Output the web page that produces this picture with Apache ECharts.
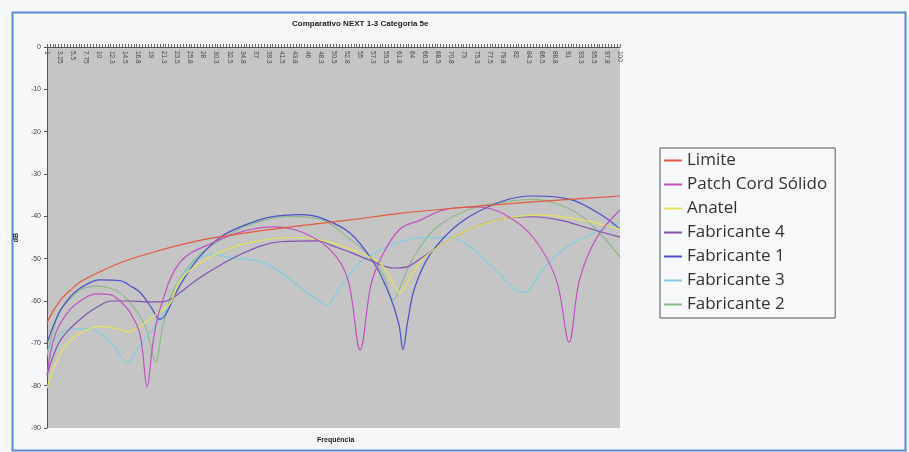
<!DOCTYPE html>
<html>
<head>
<meta charset="utf-8">
<script src="https://cdn.jsdelivr.net/npm/echarts@6/dist/echarts.min.js"></script>
<style>
  html, body { margin: 0; padding: 0; background: #f6f7f9; }
  #chart { width: 909px; height: 452px; }
</style>
</head>
<body>
<div id="chart"></div>
<script>
// rótulos do eixo de frequência (MHz)
var freqLabels = ['1', '3.25', '5.5', '7.75', '10', '12.3', '14.5', '16.8', '19', '21.3', '23.5', '25.8',
  '28', '30.3', '32.5', '34.8', '37', '39.3', '41.5', '43.8', '46', '48.3', '50.5', '52.8', '55', '57.3',
  '59.5', '61.8', '64', '66.3', '68.5', '70.8', '73', '75.3', '77.5', '79.8', '82', '84.3', '86.5', '88.8',
  '91', '93.3', '95.5', '97.8', '100'];

var seriesNames = ['Limite', 'Patch Cord Sólido', 'Anatel', 'Fabricante 4', 'Fabricante 1', 'Fabricante 3', 'Fabricante 2'];

// [frequência, dB]
var limite = [[1, -65.2], [2, -62.5], [3.5, -59.5], [5, -57.5], [7, -55.3], [10, -53.2], [14, -50.8], [19, -48.6],
  [27, -45.8], [36, -43.8], [45, -42.2], [53, -40.9], [62, -39.3], [71, -38.1], [80, -37.1], [90, -36.1], [100, -35.2]];

var patchCord = [[1, -77.5], [2.4, -68], [5, -62], [7.9, -59], [9.6, -58.3], [11.9, -58.5], [13.6, -60], [15.5, -63],
  [17.1, -68], [18.3, -80.3], [19.3, -70], [20.5, -62], [24, -50.8], [30, -46], [35, -43.5], [40, -42.5], [45, -43.7],
  [50, -48], [53, -55], [55.1, -71.6], [57, -56], [59, -49], [62, -43], [65.5, -40.9], [70, -38.3], [75.3, -37.8],
  [80, -39.5], [85, -45], [89, -55], [91.2, -69.7], [93, -55], [96, -45], [100, -38.5]];

var anatel = [[1, -80.6], [2.4, -75], [4.5, -70], [6.7, -67.6], [10.2, -66], [13, -66.5], [14.8, -67.3], [17.6, -65.5],
  [20, -63], [22.3, -60.5], [24, -55], [27.4, -51], [30, -49], [35, -46.5], [43, -45], [48, -45.5], [53, -47.5],
  [58.5, -51], [60.5, -55], [62, -58], [63.5, -55], [66, -50], [70, -46], [75, -42.5], [80, -40.5], [86.2, -39.7],
  [92, -40.5], [100, -43]];

var fab4 = [[1, -77.5], [3, -70], [5, -66.5], [7.9, -63], [10.2, -61], [12, -60], [15, -60], [18, -60.2], [21, -60.2],
  [23, -59], [24, -58], [27.4, -54.5], [34.4, -49], [41.3, -46], [48, -45.8], [50, -46.8], [53.4, -48.5], [57, -50.5],
  [60.8, -52.2], [63, -52], [65.5, -50], [70, -46], [75, -42.5], [80, -40.5], [85, -40.1], [90, -41], [95, -43], [100, -44.9]];

var fab1 = [[1, -70], [3, -63], [5, -59], [6.7, -57], [9, -55.3], [10.2, -55], [13.6, -55.2], [15.5, -56.5], [17.1, -58],
  [19, -61.5], [20.5, -64.3], [21.6, -63], [23.1, -58.5], [25, -54], [27.4, -49.5], [30.9, -45], [34.4, -42.5],
  [39.5, -40.2], [44.7, -39.6], [48.2, -40.3], [53.4, -44], [57.7, -51.5], [60.3, -59], [61.8, -65.5], [62.5, -71.5],
  [63.3, -65], [64.5, -57], [67.2, -49], [72.4, -41.5], [79.3, -36.6], [85, -35.2], [91.4, -36], [96.6, -39.5], [100, -43]];

var fab3 = [[1, -72], [2.4, -69], [4.5, -66.8], [7.9, -66.5], [10.2, -67.5], [12.5, -70.5], [15, -74.7], [16.5, -71.5],
  [18.8, -67.6], [22.3, -60.5], [24, -55], [26.9, -50.3], [30, -49], [32.6, -49.8], [36.6, -50.3], [40, -52], [44, -56],
  [47, -59], [49.4, -61], [51.5, -57], [55, -51], [58.5, -48], [62, -46], [65.5, -45], [70.6, -45], [74, -47], [78, -52],
  [83.3, -58], [87, -52], [91, -47], [96.6, -43.2], [100, -41.6]];

var fab2 = [[1, -73], [3, -63], [5, -59.5], [7, -57.2], [9.6, -56.5], [12, -57], [14, -58.5], [16, -61.5], [18, -66],
  [19.8, -74.4], [21, -66], [23, -57], [27, -49.5], [30.9, -45.6], [36, -42], [43, -40], [48.7, -40.9], [53, -45],
  [56.3, -48.7], [59, -53.5], [60.8, -59.8], [62.5, -55], [64.2, -50], [68, -43], [73.6, -38.5], [80, -36.6], [85, -36],
  [90, -37.5], [94.3, -41], [100, -49.6]];

var seriesData = [limite, patchCord, anatel, fab4, fab1, fab3, fab2];
var colors = ['#e4583f', '#c050c0', '#e6e456', '#8052b0', '#4a50c8', '#7ccfe2', '#8db88a'];

var chart = echarts.init(document.getElementById('chart'));

var option = {
  animation: false,
  backgroundColor: '#f6f7f9',
  color: colors,
  title: [
    {
      text: 'Comparativo NEXT 1-3 Categoria 5e',
      left: 287, top: 15,
      textStyle: { fontFamily: 'Liberation Sans', fontSize: 8, fontWeight: 'bold', color: '#222' }
    },
    {
      text: 'Frequência',
      left: 312, top: 432,
      textStyle: { fontFamily: 'Liberation Sans', fontSize: 7, fontWeight: 'bold', color: '#222' }
    }
  ],
  legend: {
    data: seriesNames,
    orient: 'vertical',
    left: 660, top: 148,
    icon: 'rect',
    itemWidth: 18, itemHeight: 2,
    itemGap: 7,
    padding: [4, 8, 5, 4],
    borderColor: '#555', borderWidth: 1,
    backgroundColor: '#f7f8fa',
    textStyle: { fontFamily: 'Open Sans', fontSize: 17, color: '#333' }
  },
  grid: {
    left: 47, top: 47, width: 573, height: 381,
    show: true, backgroundColor: '#c5c5c5', borderWidth: 0
  },
  xAxis: [
    {
      type: 'value', min: 1, max: 100, interval: 0.5,
      position: 'top',
      axisLine: { lineStyle: { color: '#555', width: 1 } },
      axisTick: { length: 3, lineStyle: { color: '#666' } },
      axisLabel: { show: false },
      splitLine: { show: false }
    },
    {
      type: 'category', data: freqLabels, boundaryGap: false,
      position: 'top',
      axisLine: { show: false },
      axisTick: { show: false },
      axisLabel: { inside: true, rotate: 90, interval: 0, margin: 4, fontSize: 6.5, color: '#444', fontFamily: 'Liberation Sans' },
      splitLine: { show: false }
    }
  ],
  yAxis: {
    type: 'value', min: -90, max: 0, interval: 10,
    name: 'dB', nameLocation: 'middle', nameGap: 25,
    nameTextStyle: { fontFamily: 'Liberation Sans', fontSize: 7, fontWeight: 'bold', color: '#222' },
    axisLine: { show: true, lineStyle: { color: '#555' } },
    axisTick: { show: true, length: 3, lineStyle: { color: '#555' } },
    axisLabel: { fontSize: 7, color: '#444', fontFamily: 'Liberation Sans', margin: 6 },
    splitLine: { show: false }
  },
  graphic: [
    {
      type: 'rect', left: 10, top: 10, silent: true,
      shape: { width: 893, height: 438 },
      style: { fill: 'none', stroke: '#5a8ad6', lineWidth: 2 }
    }
  ],
  series: seriesNames.map(function (name, i) {
    return {
      name: name,
      type: 'line',
      xAxisIndex: 0,
      data: seriesData[i],
      smooth: 0.35,
      showSymbol: false,
      lineStyle: { width: 1.2, color: colors[i] },
      z: 10 - i
    };
  })
};

chart.setOption(option);
</script>
</body>
</html>
